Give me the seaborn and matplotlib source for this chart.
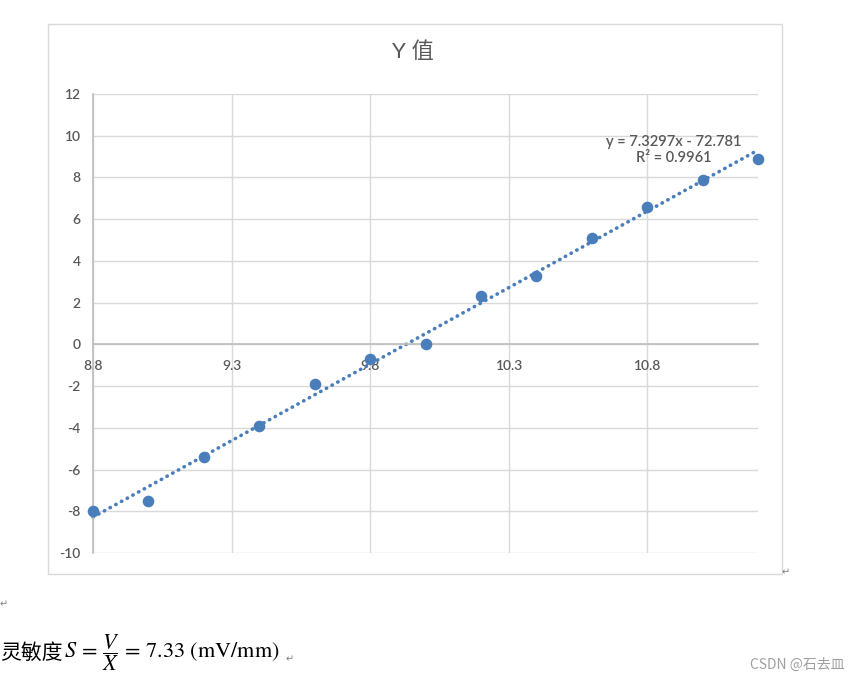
import numpy as np
import pandas as pd
import seaborn as sns
import matplotlib.pyplot as plt
from matplotlib.patches import Rectangle

# displacement (mm) and output (mV)
x_vals = [8.8, 9.0, 9.2, 9.4, 9.6, 9.8, 10.0, 10.2, 10.4, 10.6, 10.8, 11.0, 11.2]
y_vals = [-8.0, -7.5, -5.4, -3.9, -1.9, -0.7, 0.0, 2.3, 3.3, 5.1, 6.6, 7.9, 8.9]
x_ticks = [8.8, 9.3, 9.8, 10.3, 10.8]
y_ticks = list(range(-10, 13, 2))
title = "Y 值"
eq_text = "y = 7.3297x - 72.781\nR² = 0.9961"

sns.set_theme(style="white")
plt.rcParams['font.family'] = ['Lato', 'Noto Sans CJK SC', 'DejaVu Sans']
plt.rcParams['mathtext.fontset'] = 'stix'
plt.rcParams['axes.unicode_minus'] = False

W, H = 860, 684
fig = plt.figure(figsize=(W / 100, H / 100), dpi=100)
ax = fig.add_axes([93 / W, 1 - 553 / H, (758 - 93) / W, (553 - 94) / H])

# chart frame like the Excel object border
fig.patches.append(Rectangle((48 / W, 1 - 574 / H), (782 - 48) / W, (574 - 24) / H,
                             transform=fig.transFigure, fill=False,
                             edgecolor='#d9d9d9', linewidth=1))

df = pd.DataFrame({'x': x_vals, 'y': y_vals})
blue = '#4a7ebb'
sns.regplot(data=df, x='x', y='y', ax=ax, ci=None, color=blue,
            scatter_kws=dict(s=70, zorder=3, linewidths=0, alpha=1, clip_on=False),
            line_kws=dict(linestyle=(0, (0.1, 1.7)), linewidth=2.6,
                          dash_capstyle='round', zorder=2, clip_on=False))

ax.set_xlim(8.8, 11.2)
ax.set_ylim(-10, 12)
ax.set_xticks(x_ticks)
ax.set_yticks(y_ticks)
ax.set_xticklabels([f"{v:.1f}" for v in x_ticks])
ax.set_xlabel("")
ax.set_ylabel("")
ax.grid(True, color='#d9d9d9', linewidth=1)
ax.set_axisbelow(True)

for s in ['top', 'right']:
    ax.spines[s].set_visible(False)
ax.spines['bottom'].set_position(('data', 0))
ax.spines['bottom'].set_color('#bfbfbf')
ax.spines['left'].set_color('#bfbfbf')
ax.tick_params(axis='both', length=0, colors='#595959', labelsize=10)
for lab in ax.get_xticklabels() + ax.get_yticklabels():
    lab.set_fontweight('semibold')
ax.tick_params(axis='x', pad=11)
ax.tick_params(axis='y', pad=9)

fig.text(413 / W, 1 - 52 / H, title, ha='center', va='center',
         fontsize=16, color='#595959')
fig.text(674 / W, 1 - 150 / H, eq_text, ha='center', va='center',
         fontsize=10.5, color='#595959', fontweight='semibold',
         linespacing=1.25, multialignment='center')

# text below the chart
cjk = ['Noto Sans CJK SC', 'DejaVu Sans']
fig.text(0, 1 - 653 / H, "灵敏度", ha='left', va='center',
         fontsize=15, color='black', family=cjk)
fig.text(64 / W, 1 - 653 / H,
         r"$S\,=\,\dfrac{V}{X}\,=\,7.33\ \mathrm{(mV/mm)}$",
         ha='left', va='center', fontsize=16, color='black')
fig.text(845 / W, 1 - 665 / H, "CSDN @石去皿", ha='right', va='center',
         fontsize=10, color='#a0a0a0', family=cjk)
for px, py in [(786, 572), (4, 604), (290, 659)]:
    fig.text(px / W, 1 - py / H, "↵", ha='center', va='center',
             fontsize=7, color='#808080', family='DejaVu Sans')

fig.savefig('out.png', dpi=100, facecolor='white')
